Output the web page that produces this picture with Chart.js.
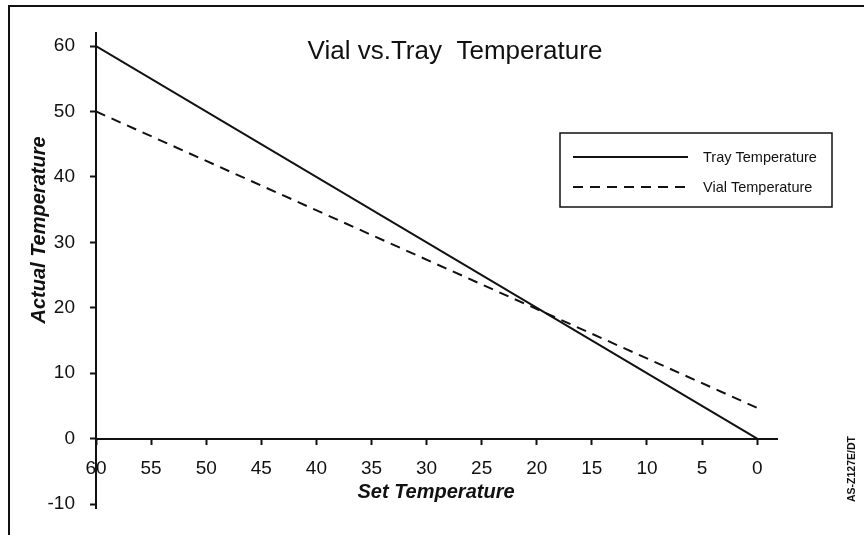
<!DOCTYPE html>
<html>
<head>
<meta charset="utf-8">
<script src="https://cdn.jsdelivr.net/npm/chart.js@4/dist/chart.umd.min.js"></script>
<style>
  html, body { margin: 0; padding: 0; background: #fff; }
  #wrap { position: relative; width: 864px; height: 535px; overflow: hidden; }
  #frameTop { position: absolute; left: 8px; top: 5px; width: 856px; height: 2px; background: #111; }
  #frameLeft { position: absolute; left: 8px; top: 5px; width: 2px; height: 530px; background: #111; }
  canvas { position: absolute; left: 0; top: 0; }
</style>
</head>
<body>
<div id="wrap">
  <canvas id="tempChart" width="864" height="535"></canvas>
  <div id="frameTop"></div>
  <div id="frameLeft"></div>
</div>
<script>
// data
const setTemps = [60, 0];
const trayTemps = [60, 0];
const vialTemps = [50, 4.7];
const xTicks = [60, 55, 50, 45, 40, 35, 30, 25, 20, 15, 10, 5, 0];
const yTicks = [-10, 0, 10, 20, 30, 40, 50, 60];

const FONT = "'Liberation Sans', Arial, Helvetica, sans-serif";
const INK = '#111';

const toPoints = (xs, ys) => xs.map((x, i) => ({ x: x, y: ys[i] }));

// titles, legend box and side code
const decor = {
  id: 'decor',
  afterDraw(chart) {
    const ctx = chart.ctx;
    ctx.save();
    ctx.fillStyle = INK;
    ctx.strokeStyle = INK;

    ctx.font = '26px ' + FONT;
    ctx.textAlign = 'center';
    ctx.textBaseline = 'middle';
    ctx.fillText('Vial vs.Tray  Temperature', 455, 52);

    ctx.font = 'italic bold 20px ' + FONT;
    ctx.fillText('Set Temperature', 436, 492);

    ctx.save();
    ctx.translate(39, 230);
    ctx.rotate(-Math.PI / 2);
    ctx.fillText('Actual Temperature', 0, 0);
    ctx.restore();

    ctx.save();
    ctx.translate(852, 469);
    ctx.rotate(-Math.PI / 2);
    ctx.font = 'bold 10.5px ' + FONT;
    ctx.fillText('AS-Z127E/DT', 0, 0);
    ctx.restore();

    // legend
    ctx.lineWidth = 1.5;
    ctx.strokeRect(560, 133, 272, 74);
    ctx.font = '14.5px ' + FONT;
    ctx.textAlign = 'left';
    const rows = [157, 187];
    chart.data.datasets.forEach((ds, i) => {
      ctx.beginPath();
      ctx.lineWidth = ds.borderWidth;
      ctx.setLineDash(ds.borderDash || []);
      ctx.moveTo(573, rows[i]);
      ctx.lineTo(688, rows[i]);
      ctx.stroke();
      ctx.setLineDash([]);
      ctx.fillText(ds.label, 703, rows[i] + 1);
    });
    ctx.restore();
  }
};

new Chart(document.getElementById('tempChart'), {
  type: 'line',
  data: {
    datasets: [
      {
        label: 'Tray Temperature',
        data: toPoints(setTemps, trayTemps),
        borderColor: INK,
        borderWidth: 2,
        pointRadius: 0,
        tension: 0,
      },
      {
        label: 'Vial Temperature',
        data: toPoints(setTemps, vialTemps),
        borderColor: INK,
        borderWidth: 2,
        borderDash: [10, 7],
        pointRadius: 0,
        tension: 0,
      },
    ],
  },
  options: {
    responsive: false,
    animation: false,
    layout: { padding: { top: 33, right: 87, bottom: 25, left: 0 } },
    plugins: {
      legend: { display: false },
      title: { display: false },
      tooltip: { enabled: false },
    },
    scales: {
      x: {
        type: 'linear',
        reverse: true,
        min: -1.8,
        max: 60,
        position: { y: 0 },
        afterBuildTicks: (s) => { s.ticks = xTicks.map((v) => ({ value: v })); },
        grid: { drawOnChartArea: false, drawTicks: true, tickLength: 5, tickWidth: 2, color: INK },
        border: { display: true, color: INK, width: 2 },
        ticks: { color: INK, font: { family: FONT, size: 19 }, padding: 14, maxRotation: 0, autoSkip: false },
      },
      y: {
        type: 'linear',
        min: -10.7,
        max: 62,
        position: 'left',
        afterBuildTicks: (s) => { s.ticks = yTicks.map((v) => ({ value: v })); },
        afterFit: (s) => { s.width = 96; },
        grid: { drawOnChartArea: false, drawTicks: true, tickLength: 6, tickWidth: 2, color: INK },
        border: { display: true, color: INK, width: 2 },
        ticks: { color: INK, font: { family: FONT, size: 19 }, padding: 15 },
      },
    },
  },
  plugins: [decor],
});
</script>
</body>
</html>
